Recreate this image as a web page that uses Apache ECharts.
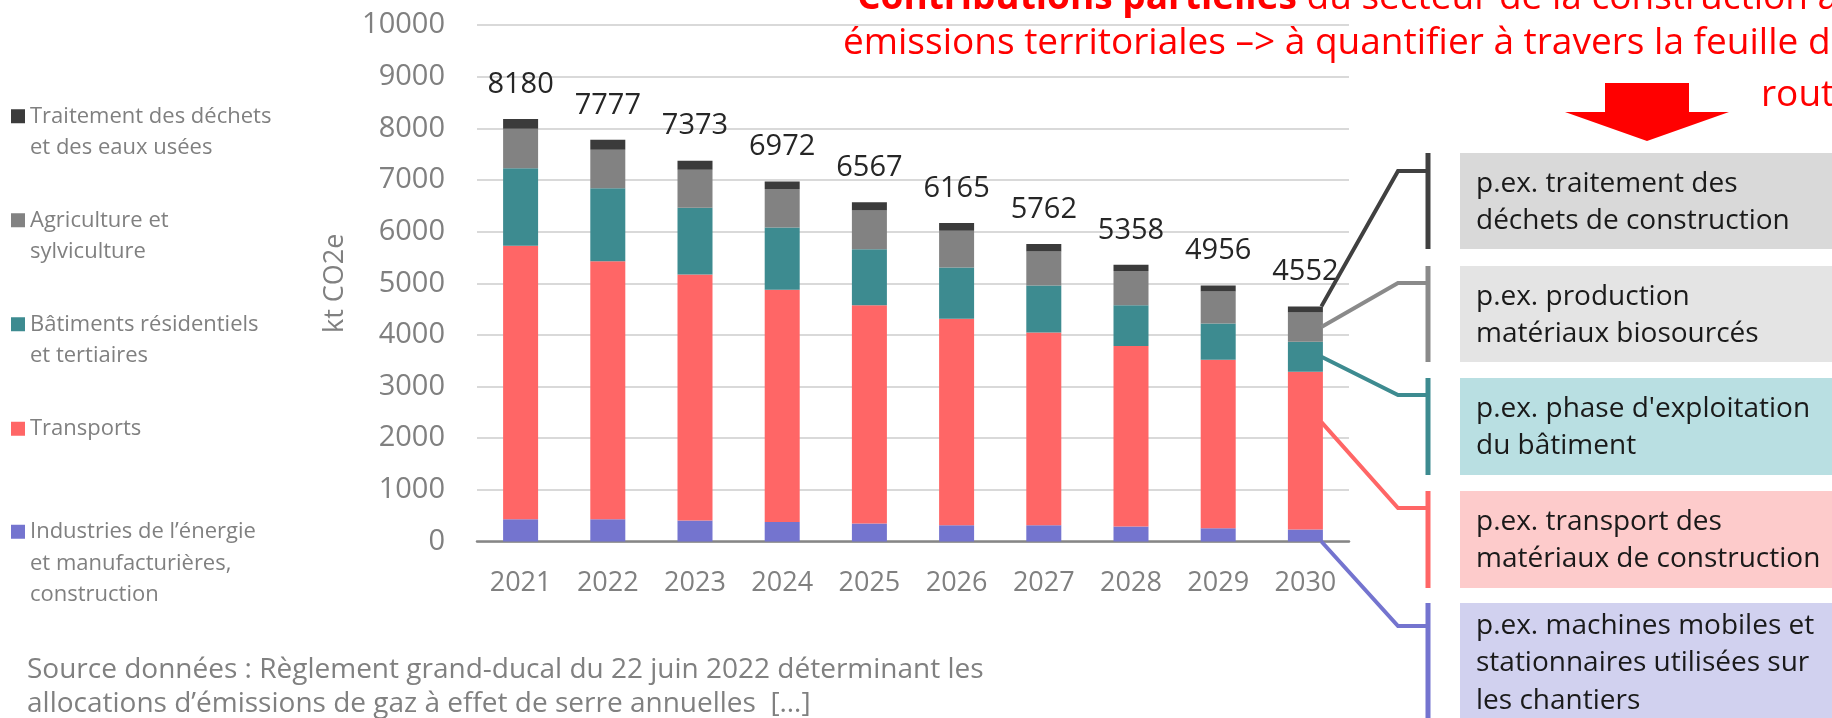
<!DOCTYPE html>
<html>
<head>
<meta charset="utf-8">
<script src="https://cdn.jsdelivr.net/npm/echarts@6/dist/echarts.min.js"></script>
<style>
html, body { margin: 0; padding: 0; background: #fff; }
#chart { width: 1832px; height: 718px; }
</style>
</head>
<body>
<div id="chart"></div>
<script>
// allocations annuelles par secteur, kt CO2e
var annees = ['2021', '2022', '2023', '2024', '2025', '2026', '2027', '2028', '2029', '2030'];
var industries = [431, 431, 406, 379, 348, 315, 315, 290, 257, 232];
var transports = [5294, 4996, 4764, 4495, 4228, 3998, 3733, 3493, 3263, 3056];
var batiments = [1501, 1412, 1290, 1205, 1084, 993, 909, 793, 702, 580];
var agriculture = [765, 748, 738, 745, 750, 712, 658, 660, 618, 566];
var dechets = [189, 190, 175, 148, 157, 147, 147, 122, 116, 118];
var totaux = [8180, 7777, 7373, 6972, 6567, 6165, 5762, 5358, 4956, 4552];

var NOM_IND = 'Industries de l’énergie et manufacturières, construction';
var NOM_TRA = 'Transports';
var NOM_BAT = 'Bâtiments résidentiels et tertiaires';
var NOM_AGR = 'Agriculture et sylviculture';
var NOM_DEC = 'Traitement des déchets et des eaux usées';

// texte de légende (lignes vides devant pour caler le carré sur la 1re ligne)
var texteLegende = {};
texteLegende[NOM_DEC] = '\nTraitement des déchets\net des eaux usées';
texteLegende[NOM_AGR] = '\nAgriculture et\nsylviculture';
texteLegende[NOM_BAT] = '\nBâtiments résidentiels\net tertiaires';
texteLegende[NOM_TRA] = 'Transports';
texteLegende[NOM_IND] = '\n\nIndustries de l’énergie\net manufacturières,\nconstruction';

var POLICE = "'Open Sans', 'DejaVu Sans', sans-serif";
var gris = '#808080';

function legende(nom, top) {
    return {
        orient: 'vertical', left: 11, top: top, padding: 0,
        icon: 'rect', itemWidth: 14, itemHeight: 14,
        selectedMode: false,
        data: [nom],
        formatter: function (n) { return texteLegende[n]; },
        textStyle: { color: gris, fontSize: 22, lineHeight: 31.5, fontFamily: POLICE }
    };
}

function barre(nom, valeurs, couleur) {
    return {
        name: nom, type: 'bar', stack: 'total', data: valeurs,
        barWidth: 35,
        itemStyle: { color: couleur },
        emphasis: { disabled: true }
    };
}

var serieDechets = barre(NOM_DEC, dechets, '#3b3b3b');
serieDechets.label = {
    show: true, position: 'top', distance: 20,
    formatter: function (p) { return totaux[p.dataIndex]; },
    color: '#262626', fontSize: 29, lineHeight: 29, fontFamily: POLICE
};

// encadrés à droite
var encadres = [
    { top: 153, bas: 249, fond: '#d9d9d9', trait: '#404040', coude: 171, texte: 'p.ex. traitement des\ndéchets de construction', ty: 165 },
    { top: 266, bas: 362, fond: '#e4e4e4', trait: '#8a8a8a', coude: 283, texte: 'p.ex. production\nmatériaux biosourcés', ty: 278 },
    { top: 378, bas: 475, fond: '#b9dfe2', trait: '#3d8b90', coude: 395, texte: 'p.ex. phase d\'exploitation\ndu bâtiment', ty: 390 },
    { top: 491, bas: 588, fond: '#fdcbcb', trait: '#ff6666', coude: 508, texte: 'p.ex. transport des\nmatériaux de construction', ty: 503 },
    { top: 603, bas: 740, fond: '#d1d1ef', trait: '#7474cf', coude: 626, texte: 'p.ex. machines mobiles et\nstationnaires utilisées sur\nles chantiers', ty: 607 }
];

var graphiques = [
    {
        type: 'text', x: 857, y: -2,
        style: {
            text: '{b|Contributions partielles}{r| du secteur de la construction au}',
            verticalAlign: 'middle', textVerticalAlign: 'middle',
            rich: {
                b: { fill: '#ff0000', font: "bold 37px " + POLICE },
                r: { fill: '#ff0000', font: "37px " + POLICE }
            }
        }
    },
    {
        type: 'text', x: 843, y: 43,
        style: {
            text: 'émissions territoriales –> à quantifier à travers la feuille de',
            fill: '#ff0000', font: "37px " + POLICE,
            verticalAlign: 'middle', textVerticalAlign: 'middle'
        }
    },
    {
        type: 'text', x: 1761, y: 95,
        style: {
            text: 'route', fill: '#ff0000', font: "37px " + POLICE,
            verticalAlign: 'middle', textVerticalAlign: 'middle'
        }
    },
    {
        type: 'polygon',
        shape: { points: [[1605, 83], [1689, 83], [1689, 112], [1729, 112], [1647, 141], [1565, 112], [1605, 112]] },
        style: { fill: '#ff0000' }
    },
    {
        type: 'text', x: 27, y: 653,
        style: {
            text: 'Source données : Règlement grand-ducal du 22 juin 2022 déterminant les\nallocations d’émissions de gaz à effet de serre annuelles  […]',
            fill: gris, font: "28px " + POLICE, lineHeight: 34,
            verticalAlign: 'top', textVerticalAlign: 'top'
        }
    }
];

encadres.forEach(function (e) {
    graphiques.push({
        type: 'rect', shape: { x: 1460, y: e.top, width: 400, height: e.bas - e.top },
        style: { fill: e.fond }
    });
    graphiques.push({
        type: 'text', x: 1476, y: e.ty,
        style: {
            text: e.texte, fill: '#1a1a1a', font: "28px " + POLICE, lineHeight: 37.5,
            verticalAlign: 'top', textVerticalAlign: 'top'
        }
    });
    graphiques.push({
        type: 'line', shape: { x1: 1428, y1: e.top, x2: 1428, y2: e.bas },
        style: { stroke: e.trait, lineWidth: 5 }
    });
});

var option = {
    backgroundColor: '#ffffff',
    animation: false,
    textStyle: { fontFamily: POLICE },
    legend: [
        legende(NOM_DEC, 69),
        legende(NOM_AGR, 173),
        legende(NOM_BAT, 277),
        legende(NOM_TRA, 413),
        legende(NOM_IND, 453)
    ],
    grid: { left: 477, right: 483, top: 25, bottom: 176.5 },
    xAxis: {
        type: 'category',
        data: annees,
        axisLine: { lineStyle: { color: '#868686', width: 2.5 } },
        axisTick: { show: false },
        axisLabel: { color: gris, fontSize: 27, lineHeight: 27, margin: 28, fontFamily: POLICE }
    },
    yAxis: {
        type: 'value',
        min: 0, max: 10000, interval: 1000,
        name: 'kt CO2e',
        nameLocation: 'middle',
        nameRotate: 90,
        nameGap: 128,
        nameTextStyle: { color: gris, fontSize: 27, fontFamily: POLICE },
        axisLine: { show: false },
        axisTick: { show: false },
        axisLabel: {
            color: gris, fontSize: 29, margin: 32, fontFamily: POLICE,
            formatter: function (v) { return String(v); }
        },
        splitLine: { lineStyle: { color: '#d9d9d9', width: 2 } }
    },
    series: [
        barre(NOM_IND, industries, '#7474cf'),
        barre(NOM_TRA, transports, '#ff6666'),
        barre(NOM_BAT, batiments, '#3d8b90'),
        barre(NOM_AGR, agriculture, '#828282'),
        serieDechets
    ],
    graphic: graphiques
};

var myChart = echarts.init(document.getElementById('chart'));
myChart.setOption(option);

// traits de liaison depuis la barre 2030 vers les encadrés
var i = annees.length - 1;
var b1 = industries[i];
var b2 = b1 + transports[i];
var b3 = b2 + batiments[i];
var b4 = b3 + agriculture[i];
var b5 = b4 + dechets[i];
var ancres = [b5, (b3 + b4) / 2, (b2 + b3) / 2, b1 + 0.68 * transports[i], 0];
var liaisons = ancres.map(function (v, k) {
    var p = myChart.convertToPixel({ gridIndex: 0 }, [annees[i], v]);
    var xd = p[0] + 16;
    var e = encadres[k];
    return {
        type: 'polyline', z: 50,
        shape: { points: [[xd, p[1]], [1398, e.coude], [1428, e.coude]] },
        style: { stroke: e.trait, lineWidth: 4, fill: null }
    };
});
myChart.setOption({ graphic: graphiques.concat(liaisons) });
</script>
</body>
</html>
